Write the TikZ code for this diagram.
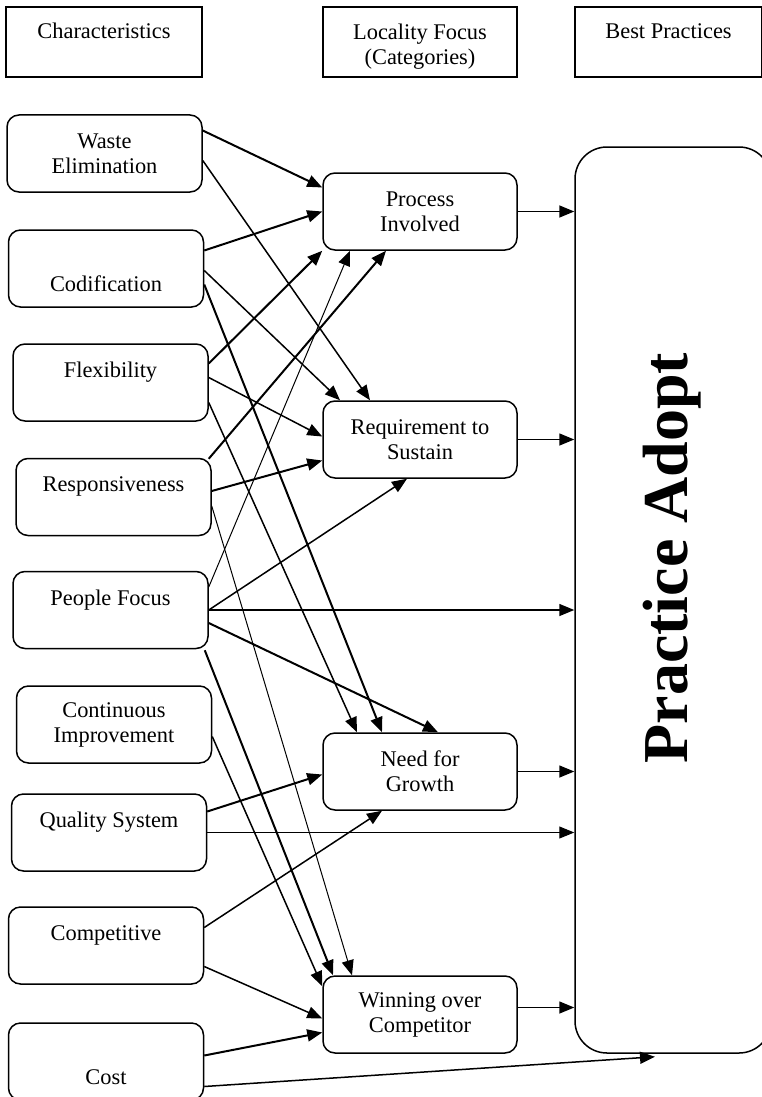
\documentclass[tikz,border=0pt]{standalone}
\usepackage{fontspec}
\setmainfont{Liberation Serif}
\usetikzlibrary{arrows.meta,calc}
\newcommand{\toppad}{\rule{0pt}{25pt}}

\begin{document}
\begin{tikzpicture}[x=1pt, y=-1pt,
        font=\fontsize{22.4}{25}\selectfont,
        >={Triangle[length=15pt,width=12pt]},
        headbox/.style={draw, line width=1.3pt, minimum height=70pt, align=center},
        charbox/.style={draw, rounded corners=12pt, line width=1.5pt, minimum width=195pt, minimum height=77pt, align=center},
        catbox/.style={charbox, minimum width=194pt},
        heavyarr/.style={->, line width=2pt},
        midarr/.style={->, line width=1.5pt},
        lightarr/.style={->, line width=1pt}]
        \useasboundingbox (0,0) rectangle (762,1097);

        % column headings
        \node[headbox, minimum width=196pt] at (104, 42)   (char) {\toppad Characteristics\\\strut};
        \node[headbox, minimum width=194pt] at (420, 42)   (loc)  {\toppad Locality Focus\\(Categories)};
        \node[headbox, minimum width=187pt] at (668.5, 42) (best) {\toppad Best Practices\\\strut};

        \node[charbox] at (104.5, 153.5) (we)   {Waste\\Elimination};
        \node[charbox] at (106, 268.5)   (cod)  {\strut\\[3pt]Codification};
        \node[charbox] at (110.5, 382.5) (flex) {Flexibility\\\mbox{}};
        \node[charbox] at (113.5, 497)   (resp) {Responsiveness\\\mbox{}};
        \node[charbox] at (110.5, 610)   (pf)   {People Focus\\\mbox{}};
        \node[charbox] at (114, 724.5)   (ci)   {Continuous\\Improvement};
        \node[charbox] at (109, 832.5)   (qs)   {Quality System\\\mbox{}};
        \node[charbox] at (106, 945.5)   (comp) {Competitive\\\mbox{}};
        \node[charbox] at (106, 1061.5)  (cost) {\strut\\[3pt]Cost};

        \node[catbox] at (420, 211.5)  (pi)  {Process\\Involved};
        \node[catbox] at (420, 439.5)  (rs)  {Requirement to\\Sustain};
        \node[catbox] at (420, 771.5)  (nfg) {Need for\\Growth};
        \node[catbox] at (420, 1014.5) (woc) {Winning over\\Competitor};

        \node[draw, rounded corners=32pt, line width=1.5pt, minimum width=196pt, minimum height=906pt] at (673, 600) (pa) {};
        \node[rotate=90, font=\bfseries\fontsize{64}{70}\selectfont] at (672, 558) (pat) {Practice Adopt};

        % characteristics to categories
        \draw[heavyarr] ($(we.east)+(0,-23)$)   -- ($(pi.west)+(0,-24)$);
        \draw[midarr]   ($(we.east)+(0,7)$)     -- ($(rs.north)+(-50,0)$);
        \draw[heavyarr] ($(cod.east)+(0,-18)$)  -- (pi.west);
        \draw[midarr]   ($(cod.east)+(0,2)$)    -- ($(rs.north)+(-80,0)$);
        \draw[heavyarr] ($(cod.east)+(0,16)$)   -- ($(nfg.north)+(-38,0)$);
        \draw[heavyarr] ($(flex.east)+(0,-19)$) -- (pi.south west);
        \draw[midarr]   ($(flex.east)+(0,-5)$)  -- ($(rs.west)+(0,-3)$);
        \draw[midarr]   ($(flex.east)+(0,20)$)  -- ($(nfg.north)+(-63,0)$);
        \draw[heavyarr] ($(resp.north east)+(-3,1)$) -- ($(pi.south)+(-34,0)$);
        \draw[heavyarr] ($(resp.east)+(0,-6)$)  -- ($(rs.west)+(0,21)$);
        \draw[lightarr] ($(resp.east)+(0,9)$)   -- ($(woc.north)+(-68,0)$);
        \draw[lightarr] ($(pf.east)+(0,-23)$)   -- ($(pi.south)+(-70,0)$);
        \draw[midarr]   (pf.east)               -- ($(rs.south)+(-13,0)$);
        \draw[heavyarr] ($(pf.east)+(0,13)$)    -- ($(nfg.north)+(18,0)$);
        \draw[heavyarr] ($(pf.south east)+(-4,1)$) -- ($(woc.north)+(-87,0)$);
        \draw[midarr]   ($(ci.east)+(0,12)$)    -- ($(woc.north west)+(0,11)$);
        \draw[heavyarr] ($(qs.east)+(0,-21)$)   -- ($(nfg.west)+(0,3)$);
        \draw[midarr]   ($(comp.east)+(0,-18)$) -- ($(nfg.south)+(-38,0)$);
        \draw[midarr]   ($(comp.east)+(0,21)$)  -- ($(woc.west)+(0,4)$);
        \draw[heavyarr] ($(cost.east)+(0,-6)$)  -- ($(woc.west)+(0,18)$);

        % straight into practice adopt
        \draw[midarr]   (pf.east) -- (pf.east -| pa.west);
        \draw[lightarr] (qs.east) -- (qs.east -| pa.west);
        \draw[midarr]   ($(cost.east)+(0,25)$)  -- ($(pa.south)+(-18,3)$);

        % categories to practice adopt
        \coordinate (wocout) at ($(woc.east)+(0,-7)$);
        \draw[midarr] (pi.east)  -- (pi.east -| pa.west);
        \draw[midarr] (rs.east)  -- (rs.east -| pa.west);
        \draw[midarr] (nfg.east) -- (nfg.east -| pa.west);
        \draw[midarr] (wocout)   -- (wocout -| pa.west);

    \end{tikzpicture}
\end{document}
